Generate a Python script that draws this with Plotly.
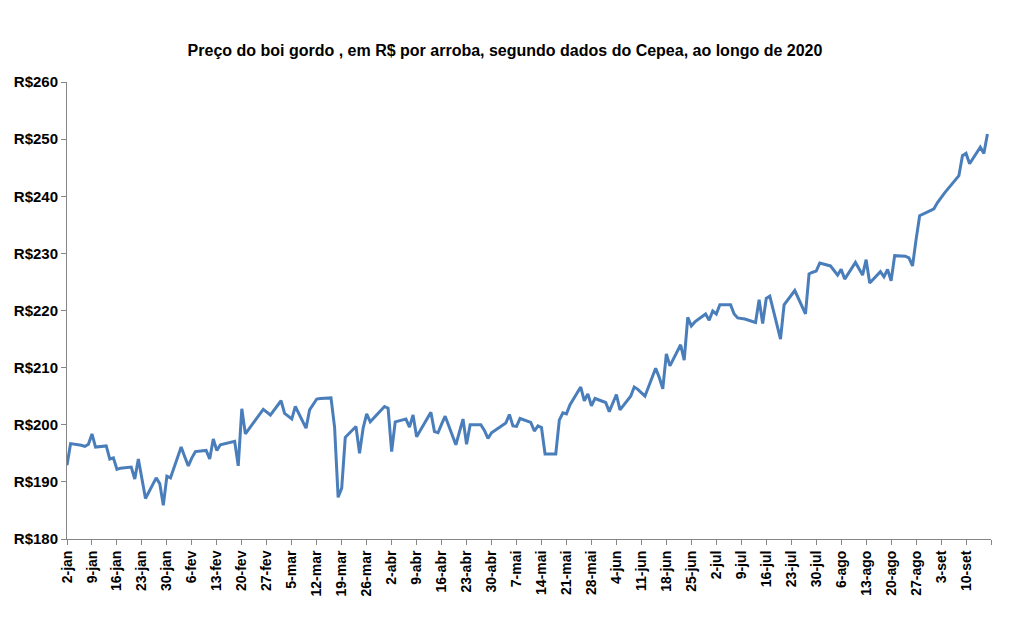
import plotly.graph_objects as go
from datetime import date, timedelta

# Business-day dates (2020) and prices (R$/arroba)
dates = [
    "2020-01-02", "2020-01-03", "2020-01-06", "2020-01-07", "2020-01-08", "2020-01-09", "2020-01-10",
    "2020-01-13", "2020-01-14", "2020-01-15", "2020-01-16", "2020-01-17",
    "2020-01-20", "2020-01-21", "2020-01-22", "2020-01-23", "2020-01-24",
    "2020-01-27", "2020-01-28", "2020-01-29", "2020-01-30", "2020-01-31",
    "2020-02-03", "2020-02-04", "2020-02-05", "2020-02-06", "2020-02-07",
    "2020-02-10", "2020-02-11", "2020-02-12", "2020-02-13", "2020-02-14",
    "2020-02-17", "2020-02-18", "2020-02-19", "2020-02-20", "2020-02-21",
    "2020-02-26", "2020-02-27", "2020-02-28",
    "2020-03-02", "2020-03-03", "2020-03-04", "2020-03-05", "2020-03-06",
    "2020-03-09", "2020-03-10", "2020-03-11", "2020-03-12", "2020-03-13",
    "2020-03-16", "2020-03-17", "2020-03-18", "2020-03-19", "2020-03-20",
    "2020-03-23", "2020-03-24", "2020-03-25", "2020-03-26", "2020-03-27",
    "2020-03-30", "2020-03-31", "2020-04-01", "2020-04-02", "2020-04-03",
    "2020-04-06", "2020-04-07", "2020-04-08", "2020-04-09",
    "2020-04-13", "2020-04-14", "2020-04-15", "2020-04-16", "2020-04-17",
    "2020-04-20", "2020-04-22", "2020-04-23", "2020-04-24",
    "2020-04-27", "2020-04-28", "2020-04-29", "2020-04-30",
    "2020-05-04", "2020-05-05", "2020-05-06", "2020-05-07", "2020-05-08",
    "2020-05-11", "2020-05-12", "2020-05-13", "2020-05-14", "2020-05-15",
    "2020-05-18", "2020-05-19", "2020-05-20", "2020-05-21", "2020-05-22",
    "2020-05-25", "2020-05-26", "2020-05-27", "2020-05-28", "2020-05-29",
    "2020-06-01", "2020-06-02", "2020-06-03", "2020-06-04", "2020-06-05",
    "2020-06-08", "2020-06-09", "2020-06-10", "2020-06-12",
    "2020-06-15", "2020-06-16", "2020-06-17", "2020-06-18", "2020-06-19",
    "2020-06-22", "2020-06-23", "2020-06-24", "2020-06-25", "2020-06-26",
    "2020-06-29", "2020-06-30", "2020-07-01", "2020-07-02", "2020-07-03",
    "2020-07-06", "2020-07-07", "2020-07-08", "2020-07-09", "2020-07-10",
    "2020-07-13", "2020-07-14", "2020-07-15", "2020-07-16", "2020-07-17",
    "2020-07-20", "2020-07-21", "2020-07-22", "2020-07-23", "2020-07-24",
    "2020-07-27", "2020-07-28", "2020-07-29", "2020-07-30", "2020-07-31",
    "2020-08-03", "2020-08-04", "2020-08-05", "2020-08-06", "2020-08-07",
    "2020-08-10", "2020-08-11", "2020-08-12", "2020-08-13", "2020-08-14",
    "2020-08-17", "2020-08-18", "2020-08-19", "2020-08-20", "2020-08-21",
    "2020-08-24", "2020-08-25", "2020-08-26", "2020-08-27", "2020-08-28",
    "2020-08-31", "2020-09-01", "2020-09-02", "2020-09-03", "2020-09-04",
    "2020-09-08", "2020-09-09", "2020-09-10", "2020-09-11",
    "2020-09-14", "2020-09-15", "2020-09-16",
]

prices = [
    192.9, 196.7, 196.4, 196.2, 196.6, 198.4, 196.1,
    196.3, 194.0, 194.2, 192.2, 192.4,
    192.6, 190.5, 194.0, 190.6, 187.1,
    190.7, 189.7, 185.9, 191.0, 190.7,
    196.1, 194.4, 192.8, 194.2, 195.3,
    195.5, 194.0, 197.5, 195.5, 196.5,
    196.9, 197.1, 192.8, 202.8, 198.4,
    202.7, 202.2, 201.7,
    204.2, 202.0, 201.5, 201.0, 203.2,
    199.4, 202.6, 203.6, 204.5, 204.6,
    204.7, 199.6, 187.3, 188.9, 197.8,
    199.7, 195.0, 199.4, 201.9, 200.5,
    202.5, 203.2, 202.9, 195.3, 200.5,
    201.0, 199.6, 201.7, 197.9,
    202.2, 198.8, 198.6, 200.1, 201.5,
    196.5, 201.0, 196.6, 200.0,
    200.0, 199.0, 197.6, 198.6,
    200.3, 201.8, 199.8, 199.7, 201.1,
    200.4, 198.9, 199.8, 199.5, 194.9,
    194.9, 200.8, 202.1, 201.9, 203.5,
    206.6, 204.2, 205.4, 203.3, 204.6,
    203.9, 202.3, 203.8, 205.3, 202.6,
    205.0, 206.6, 206.2, 205.0,
    209.9, 208.3, 206.3, 212.4, 210.3,
    214.0, 211.3, 218.8, 217.3, 218.0,
    219.4, 218.3, 219.9, 219.4, 221.0,
    221.0, 219.4, 218.7, 218.6, 218.5,
    217.9, 221.9, 217.7, 222.1, 222.5,
    215.0, 221.0, 221.9, 222.6, 223.5,
    219.4, 226.4, 226.7, 226.9, 228.3,
    227.8, 227.0, 226.2, 227.2, 225.5,
    228.4, 227.3, 226.2, 228.9, 224.8,
    226.8, 225.9, 227.2, 225.2, 229.6,
    229.5, 229.2, 227.8, 232.4, 236.6,
    237.5, 237.8, 238.9, 239.8, 240.6,
    243.6, 247.1, 247.5, 245.7,
    248.6, 247.5, 250.9,
]

# X-axis: weekly ticks from 2-jan to 17-set (last tick unlabeled)
month_names = ["jan", "fev", "mar", "abr", "mai", "jun", "jul", "ago", "set", "out", "nov", "dez"]
axis_start = "2020-01-02"
axis_end = "2020-09-17"
tick_step_days = 7

d0 = date.fromisoformat(axis_start)
d1 = date.fromisoformat(axis_end)
tick_dates = []
d = d0
while d <= d1:
    tick_dates.append(d)
    d += timedelta(days=tick_step_days)
tick_vals = [t.isoformat() for t in tick_dates]
tick_text = [f"{t.day}-{month_names[t.month - 1]}" for t in tick_dates]
tick_text[-1] = ""

y_min, y_max, y_step = 180, 260, 10

title = "Preço do boi gordo , em R$ por arroba, segundo dados do Cepea, ao longo de 2020"

FONT = "Liberation Sans Narrow, Arial Narrow, Liberation Sans, sans-serif"
AXIS_COLOR = "#868686"

fig = go.Figure()
fig.add_trace(go.Scatter(
    x=dates, y=prices, mode="lines",
    line=dict(color="#4A7EBB", width=3),
    showlegend=False,
))

fig.update_layout(
    width=1013, height=631,
    paper_bgcolor="white", plot_bgcolor="white",
    margin=dict(l=67, r=22, t=82, b=92),
    title=dict(
        text=title, x=0.4985, xanchor="center", y=1 - 50 / 631, yanchor="middle",
        font=dict(family=FONT, size=16, color="black", weight="bold"),
    ),
    font=dict(family=FONT, color="black"),
)

fig.update_xaxes(
    type="date", range=[axis_start, axis_end],
    tickmode="array", tickvals=tick_vals, ticktext=tick_text,
    tickangle=-90, ticks="outside", ticklen=5, tickcolor=AXIS_COLOR,
    showline=True, linecolor=AXIS_COLOR, linewidth=1,
    showgrid=False, zeroline=False,
    tickfont=dict(family=FONT, size=14, color="black", weight="bold"),
)

fig.update_yaxes(
    range=[y_min, y_max], tick0=y_min, dtick=y_step,
    tickprefix="R$", tickformat="d",
    ticks="outside", ticklen=5, tickcolor=AXIS_COLOR,
    showline=True, linecolor=AXIS_COLOR, linewidth=1,
    showgrid=False, zeroline=False,
    tickfont=dict(family=FONT, size=15, color="black", weight="bold"),
)

fig.write_html("out.html")
